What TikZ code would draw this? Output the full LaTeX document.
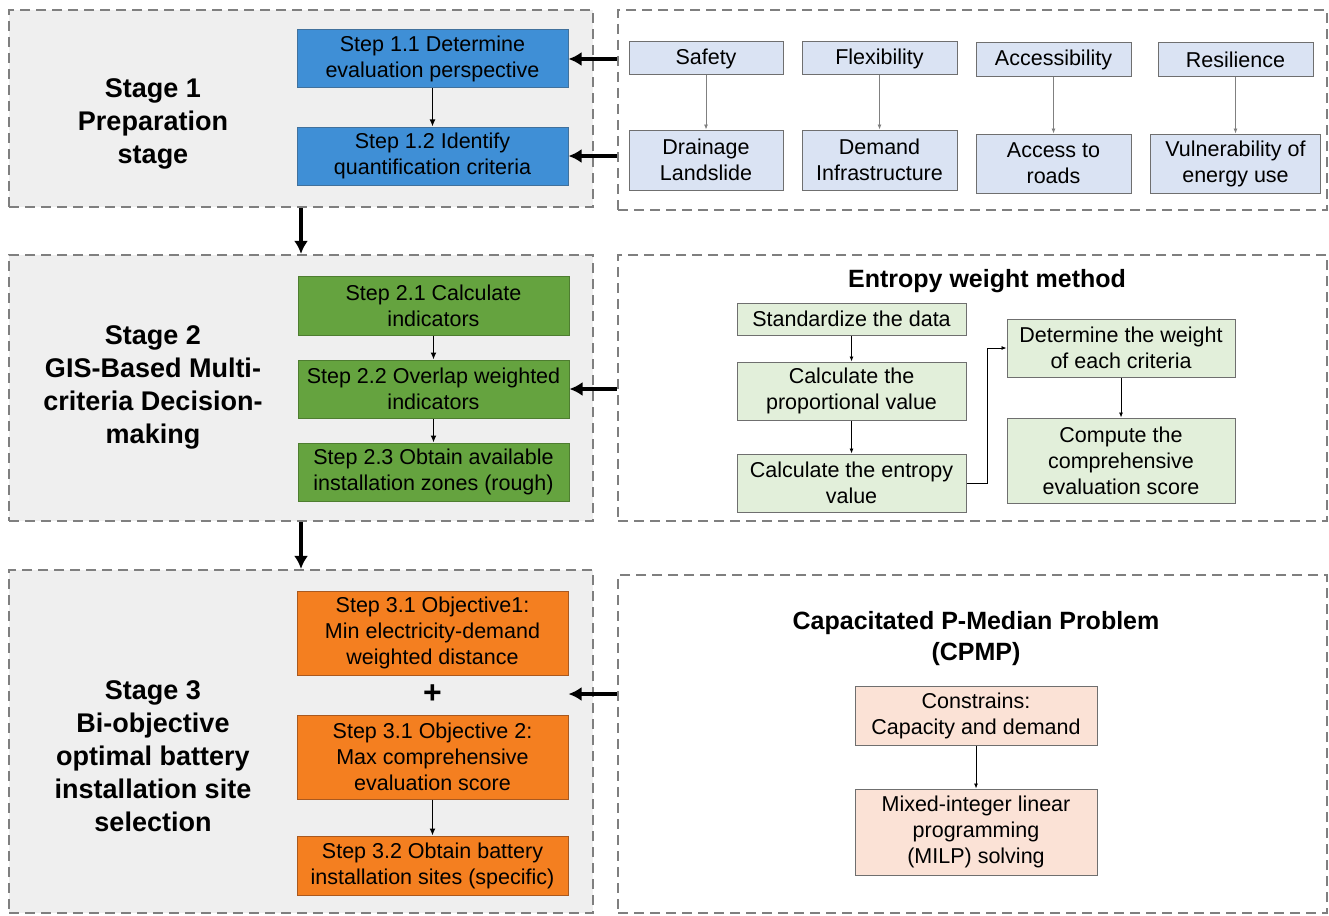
\documentclass[tikz,border=0pt]{standalone}
\usepackage{fontspec}
\setmainfont{Liberation Sans}
\usetikzlibrary{arrows.meta}
\definecolor{stagefill}{HTML}{EFEFEF}
\definecolor{dashgray}{HTML}{7F7F7F}
\definecolor{blueS}{HTML}{3F8FD6}
\definecolor{blueB}{HTML}{41719C}
\definecolor{greenS}{HTML}{65A33F}
\definecolor{greenB}{HTML}{4E7D30}
\definecolor{orangeS}{HTML}{F47F20}
\definecolor{orangeB}{HTML}{A9591F}
\definecolor{lblue}{HTML}{DAE3F3}
\definecolor{lgreen}{HTML}{E2EFDA}
\definecolor{lpeach}{HTML}{FBE2D6}
\definecolor{boxB}{HTML}{6F6F6F}
\begin{document}
\begin{tikzpicture}[x=1pt,y=-1pt,
  stagebox/.style={draw=dashgray, fill=stagefill, line width=2.2pt, dash pattern=on 10pt off 6pt, inner sep=0pt},
  sidebox/.style={draw=dashgray, fill=white, line width=2.2pt, dash pattern=on 10pt off 6pt, inner sep=0pt},
  stagelabel/.style={font=\fontsize{27}{33}\selectfont\bfseries, align=center, inner sep=0pt},
  titlelabel/.style={font=\fontsize{25}{31}\selectfont\bfseries, align=center, inner sep=0pt},
  stepbox/.style={draw, line width=1pt, inner sep=0pt, align=center, font=\fontsize{21.5}{26}\selectfont},
  bluestep/.style={stepbox, fill=blueS, draw=blueB},
  greenstep/.style={stepbox, fill=greenS, draw=greenB},
  orangestep/.style={stepbox, fill=orangeS, draw=orangeB},
  lbluebox/.style={stepbox, fill=lblue, draw=boxB},
  lgreenbox/.style={stepbox, fill=lgreen, draw=boxB},
  lpeachbox/.style={stepbox, fill=lpeach, draw=boxB},
  bigarrow/.style={line width=3.5pt, -{Latex[length=13pt,width=14pt]}},
  midarrow/.style={line width=1.6pt, -{Latex[length=7pt,width=6pt]}},
  thinarrow/.style={line width=0.8pt, -{Latex[length=5pt,width=4pt]}},
  grayarrow/.style={draw=gray, line width=0.8pt, -{Latex[length=5pt,width=4pt]}}
]
\useasboundingbox (0,0) rectangle (1329,915);

% ---------- Stage containers ----------
\node[stagebox, minimum width=584pt, minimum height=197pt] (st1) at (301,108.5) {};
\node[stagebox, minimum width=584pt, minimum height=266pt] (st2) at (301,388) {};
\node[stagebox, minimum width=584pt, minimum height=343pt] (st3) at (301,741.5) {};

\node[sidebox, minimum width=709pt, minimum height=200pt] (r1) at (972.5,110) {};
\node[sidebox, minimum width=709pt, minimum height=266pt] (r2) at (972.5,388) {};
\node[sidebox, minimum width=709pt, minimum height=338pt] (r3) at (972.5,744) {};

% ---------- Stage labels ----------
\node[stagelabel] (l1) at (153,124) {Stage 1\\Preparation\\stage};
\node[stagelabel] (l2) at (153,387) {Stage 2\\GIS-Based Multi-\\criteria Decision-\\making};
\node[stagelabel] (l3) at (153,756) {Stage 3\\Bi-objective\\optimal battery\\installation site\\selection};

% ---------- Stage 1 steps ----------
\node[bluestep, minimum width=271pt, minimum height=58pt] (s11) at (432.5,59) {Step 1.1 Determine\\evaluation perspective};
\node[bluestep, minimum width=271pt, minimum height=58pt] (s12) at (432.5,156) {Step 1.2 Identify\\quantification criteria};
\draw[midarrow] (s11) -- (s12);

% ---------- Stage 2 steps ----------
\node[greenstep, minimum width=271pt, minimum height=59pt] (s21) at (433.5,305.5) {Step 2.1 Calculate\\indicators};
\node[greenstep, minimum width=271pt, minimum height=58pt] (s22) at (433.5,389) {Step 2.2 Overlap weighted\\indicators};
\node[greenstep, minimum width=271pt, minimum height=58pt] (s23) at (433.5,472) {Step 2.3 Obtain available\\installation zones (rough)};
\draw[midarrow] (s21) -- (s22);
\draw[midarrow] (s22) -- (s23);

% ---------- Stage 3 steps ----------
\node[orangestep, minimum width=271pt, minimum height=84pt] (s31) at (432.5,633) {Step 3.1 Objective1:\\Min electricity-demand\\weighted distance};
\node[font=\fontsize{32}{32}\selectfont\bfseries, inner sep=0pt] (plus) at (432.5,694) {+};
\node[orangestep, minimum width=271pt, minimum height=84pt] (s32) at (432.5,757) {Step 3.1 Objective 2:\\Max comprehensive\\evaluation score};
\node[orangestep, minimum width=271pt, minimum height=59pt] (s33) at (432.5,865.5) {Step 3.2 Obtain battery\\installation sites (specific)};
\draw[midarrow] (s32) -- (s33);

% ---------- Stage flow arrows ----------
\draw[bigarrow] (st1.south) -- (st2.north);
\draw[bigarrow] (st2.south) -- (st3.north);

% ---------- Criteria panel ----------
\node[lbluebox, minimum width=154pt, minimum height=33pt] (saf) at (706,58.5) {Safety};
\node[lbluebox, minimum width=155pt, minimum height=33pt] (fle) at (879.5,58.5) {Flexibility};
\node[lbluebox, minimum width=155pt, minimum height=34pt] (acc) at (1053.5,60) {Accessibility};
\node[lbluebox, minimum width=155pt, minimum height=34pt] (res) at (1235.5,60) {Resilience};
\node[lbluebox, minimum width=154pt, minimum height=60pt] (dra) at (706,160) {Drainage\\Landslide};
\node[lbluebox, minimum width=155pt, minimum height=60pt] (dem) at (879.5,160) {Demand\\Infrastructure};
\node[lbluebox, minimum width=155pt, minimum height=59pt] (acr) at (1053.5,163.5) {Access to\\roads};
\node[lbluebox, minimum width=170pt, minimum height=59pt] (vul) at (1235.5,163.5) {Vulnerability of\\energy use};
\draw[grayarrow] (saf) -- (dra);
\draw[grayarrow] (fle) -- (dem);
\draw[grayarrow] (acc) -- (acr);
\draw[grayarrow] (res) -- (vul);

\draw[bigarrow] (r1.west |- s11.east) -- (s11.east);
\draw[bigarrow] (r1.west |- s12.east) -- (s12.east);

% ---------- Entropy weight panel ----------
\node[titlelabel] (ewt) at (987,281) {Entropy weight method};
\node[lgreenbox, minimum width=229pt, minimum height=32pt] (std) at (851.5,319) {Standardize the data};
\node[lgreenbox, minimum width=229pt, minimum height=58pt] (pro) at (851.5,391) {Calculate the\\proportional value};
\node[lgreenbox, minimum width=229pt, minimum height=58pt] (ent) at (851.5,483) {Calculate the entropy\\value};
\node[lgreenbox, minimum width=228pt, minimum height=58pt] (det) at (1121,348) {Determine the weight\\of each criteria};
\node[lgreenbox, minimum width=228pt, minimum height=85pt] (cmp) at (1121,460.5) {Compute the\\comprehensive\\evaluation score};
\draw[thinarrow] (std) -- (pro);
\draw[thinarrow] (pro) -- (ent);
\draw[thinarrow] (ent.east) -- ++(21,0) |- (det.west);
\draw[thinarrow] (det) -- (cmp);

\draw[bigarrow] (r2.west |- s22.east) -- (s22.east);

% ---------- CPMP panel ----------
\node[titlelabel] (cpt) at (976,638.5) {Capacitated P-Median Problem\\(CPMP)};
\node[lpeachbox, minimum width=242pt, minimum height=59pt] (con) at (976,715.5) {Constrains:\\Capacity and demand};
\node[lpeachbox, minimum width=242pt, minimum height=86pt] (mil) at (976,832) {Mixed-integer linear\\programming\\(MILP) solving};
\draw[thinarrow] (con) -- (mil);

\draw[bigarrow] (r3.west |- plus.east) -- (s31.east |- plus.east);
\end{tikzpicture}
\end{document}
